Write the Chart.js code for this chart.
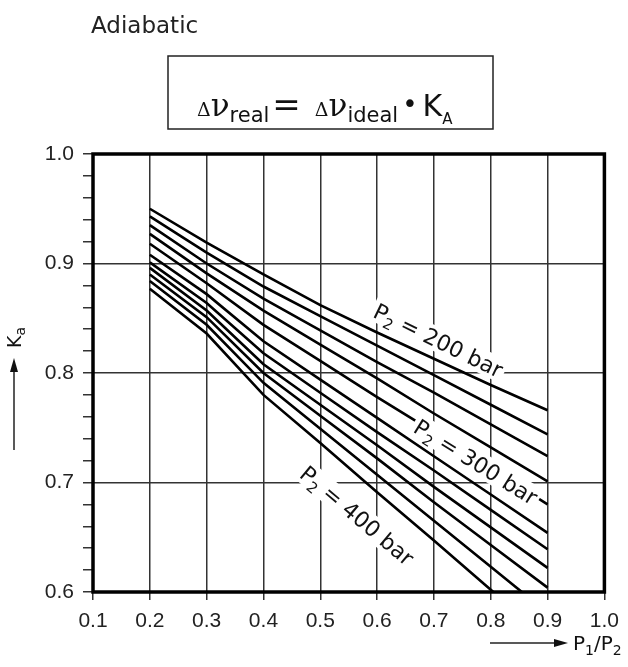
<!DOCTYPE html>
<html>
<head>
<meta charset="utf-8">
<script src="https://cdn.jsdelivr.net/npm/chart.js@4.4.1/dist/chart.umd.min.js"></script>
<style>
  html, body { margin: 0; padding: 0; background: #fff; }
  #wrap { position: relative; width: 628px; height: 667px; }
</style>
</head>
<body>
<div id="wrap"><canvas id="chart" width="628" height="667"></canvas></div>
<script>
// P1/P2 positions where the curves were read
const ratios = [0.2, 0.3, 0.4, 0.5, 0.6, 0.7, 0.8, 0.9];

// K_a for each curve, top (200 bar) to bottom (400 bar)
const curve1 = [0.950, 0.919, 0.890, 0.862, 0.837, 0.813, 0.789, 0.766];
const curve2 = [0.943, 0.910, 0.879, 0.852, 0.825, 0.798, 0.771, 0.744];
const curve3 = [0.935, 0.900, 0.868, 0.839, 0.810, 0.782, 0.753, 0.724];
const curve4 = [0.927, 0.891, 0.857, 0.826, 0.795, 0.763, 0.732, 0.701];
const curve5 = [0.918, 0.882, 0.844, 0.811, 0.778, 0.746, 0.713, 0.680];
const curve6 = [0.908, 0.872, 0.829, 0.794, 0.759, 0.724, 0.689, 0.654];
const curve7 = [0.901, 0.864, 0.818, 0.782, 0.746, 0.711, 0.675, 0.639];
const curve8 = [0.896, 0.857, 0.808, 0.771, 0.734, 0.696, 0.659, 0.622];
const curve9 = [0.890, 0.851, 0.800, 0.761, 0.722, 0.682, 0.643, 0.604];
const curve10 = [0.884, 0.844, 0.791, 0.749, 0.707, 0.665, 0.623, 0.581];
const curve11 = [0.877, 0.836, 0.780, 0.736, 0.691, 0.647, 0.602, 0.558];
const curves = [curve1, curve2, curve3, curve4, curve5, curve6, curve7, curve8, curve9, curve10, curve11];

// curve labels: text pressure, and where they sit (in P1/P2, K_a units)
const pressureLabels = ['200 bar', '300 bar', '400 bar'];
const labelAt = [[0.708, 0.830], [0.774, 0.719], [0.565, 0.670]];
const labelAngle = [26, 32, 40];

const xTicks = [0.1, 0.2, 0.3, 0.4, 0.5, 0.6, 0.7, 0.8, 0.9, 1.0];

const INK = '#111';
const isMajor = (v) => Math.abs(v * 10 - Math.round(v * 10)) < 1e-6;

// draws a list of [text, size, dy, family, gapAfter] pieces side by side
const drawRuns = (ctx, runs, x, y, measureOnly) => {
  let cx = x;
  runs.forEach((r) => {
    ctx.font = r[1] + 'px ' + (r[3] || '"DejaVu Sans"');
    if (!measureOnly) ctx.fillText(r[0], cx, y + (r[2] || 0));
    cx += ctx.measureText(r[0]).width + (r[4] || 0);
  });
  return cx - x;
};

const decorPlugin = {
  id: 'decor',
  afterDatasetsDraw(chart) {
    const { ctx, chartArea: a, scales } = chart;
    ctx.save();
    ctx.fillStyle = INK;
    ctx.textBaseline = 'alphabetic';

    // curve labels with white background over the lines
    pressureLabels.forEach((txt, i) => {
      const px = scales.x.getPixelForValue(labelAt[i][0]);
      const py = scales.y.getPixelForValue(labelAt[i][1]);
      const runs = [['P', 22], ['2', 15, 5], [' = ' + txt, 22]];
      const w = drawRuns(ctx, runs, 0, 0, true);
      ctx.save();
      ctx.translate(px, py);
      ctx.rotate(labelAngle[i] * Math.PI / 180);
      ctx.fillStyle = '#fff';
      ctx.fillRect(-w / 2 - 3, -12, w + 6, 24);
      ctx.fillStyle = INK;
      drawRuns(ctx, runs, -w / 2, 8);
      ctx.restore();
    });

    // heavy frame
    ctx.strokeStyle = '#000';
    ctx.lineWidth = 3.5;
    ctx.strokeRect(a.left, a.top, a.right - a.left, a.bottom - a.top);
    ctx.restore();
  },
  afterDraw(chart) {
    const { ctx } = chart;
    ctx.save();
    ctx.fillStyle = '#222';
    ctx.strokeStyle = '#222';
    ctx.textBaseline = 'alphabetic';

    // heading
    ctx.font = '23px "DejaVu Sans"';
    ctx.fillText('Adiabatic', 91, 33);

    // formula box
    ctx.lineWidth = 1.5;
    ctx.strokeRect(168, 56, 325, 73);
    ctx.fillStyle = INK;
    drawRuns(ctx, [
      ['\u0394', 19, 0, '"DejaVu Serif"'], ['\u03bd', 31, 0, '"DejaVu Serif"'], ['real', 21, 6, '"DejaVu Sans"', 3],
      ['=', 34, 0, '"DejaVu Sans"', 14],
      ['\u0394', 19, 0, '"DejaVu Serif"'], ['\u03bd', 31, 0, '"DejaVu Serif"'], ['ideal', 21, 6, '"DejaVu Sans"', 4],
      ['\u2022', 26, -3, '"DejaVu Sans"', 5],
      ['K', 30, 0, '"DejaVu Sans"'], ['A', 15, 8, '"DejaVu Sans"']
    ], 197, 116);

    // y axis title K_a with arrow
    ctx.save();
    ctx.translate(21, 348);
    ctx.rotate(-Math.PI / 2);
    drawRuns(ctx, [['K', 19], ['a', 14, 4]], 0, 0);
    ctx.restore();
    ctx.lineWidth = 1.5;
    ctx.beginPath();
    ctx.moveTo(14, 450);
    ctx.lineTo(14, 368);
    ctx.stroke();
    ctx.beginPath();
    ctx.moveTo(14, 358);
    ctx.lineTo(10, 372);
    ctx.lineTo(18, 372);
    ctx.closePath();
    ctx.fill();

    // x axis title P1/P2 with arrow
    ctx.beginPath();
    ctx.moveTo(490, 643);
    ctx.lineTo(558, 643);
    ctx.stroke();
    ctx.beginPath();
    ctx.moveTo(568, 643);
    ctx.lineTo(554, 639);
    ctx.lineTo(554, 647);
    ctx.closePath();
    ctx.fill();
    drawRuns(ctx, [['P', 20], ['1', 14, 5], ['/P', 20], ['2', 14, 5]], 573, 650);
    ctx.restore();
  }
};

const datasets = curves.map((c, i) => ({
  label: 'curve ' + (i + 1),
  data: c.map((k, j) => ({ x: ratios[j], y: k })),
  borderColor: '#000',
  borderWidth: 2.6,
  pointRadius: 0,
  tension: 0,
  fill: false
}));

new Chart(document.getElementById('chart').getContext('2d'), {
  type: 'line',
  data: { datasets: datasets },
  plugins: [decorPlugin],
  options: {
    responsive: false,
    animation: false,
    layout: { padding: { top: 154, right: 21, left: 0, bottom: 0 } },
    plugins: { legend: { display: false }, tooltip: { enabled: false } },
    scales: {
      x: {
        type: 'linear',
        min: 0.1,
        max: 1.0,
        afterBuildTicks: (s) => { s.ticks = xTicks.map((v) => ({ value: v })); },
        afterFit: (s) => { s.height = 75; },
        border: { display: false },
        grid: {
          color: (c) => (c.tick && (c.tick.value < 0.15 || c.tick.value > 0.95) ? 'rgba(0,0,0,0)' : '#333'),
          lineWidth: 1.5,
          tickColor: '#333',
          tickLength: 8
        },
        ticks: {
          padding: 9,
          color: '#222',
          font: { family: '"Liberation Sans"', size: 21 },
          maxRotation: 0,
          callback: (v) => v.toFixed(1)
        }
      },
      y: {
        type: 'linear',
        min: 0.6,
        max: 1.0,
        afterFit: (s) => { s.width = 93; },
        border: { display: false },
        grid: {
          color: (c) => {
            const v = c.tick ? c.tick.value : 0;
            return isMajor(v) && v > 0.65 && v < 0.95 ? '#333' : 'rgba(0,0,0,0)';
          },
          lineWidth: 1.5,
          tickColor: '#333',
          tickLength: 10
        },
        ticks: {
          stepSize: 0.02,
          autoSkip: false,
          padding: 9,
          color: '#222',
          font: { family: '"Liberation Sans"', size: 21 },
          callback: (v) => (isMajor(v) ? v.toFixed(1) : '')
        }
      }
    }
  }
});
</script>
</body>
</html>
